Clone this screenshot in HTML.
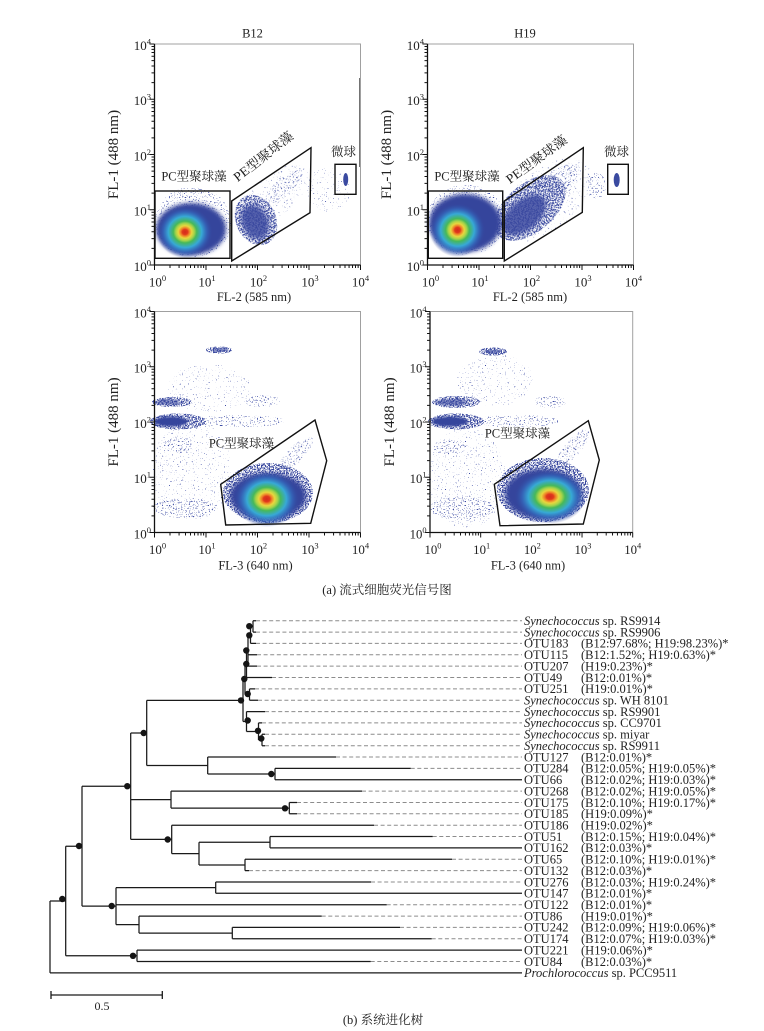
<!DOCTYPE html>
<html><head><meta charset="utf-8">
<style>
html,body{margin:0;padding:0;background:#fff;}
svg{display:block;}
text{font-family:"Liberation Serif","Noto Serif CJK SC",serif;fill:#222;}
</style></head>
<body>
<svg width="764" height="1031" viewBox="0 0 764 1031" xmlns="http://www.w3.org/2000/svg">
<defs>
<filter id="b2" x="-30%" y="-30%" width="160%" height="160%"><feGaussianBlur stdDeviation="2"/></filter>
<filter id="b1" x="-30%" y="-30%" width="160%" height="160%"><feGaussianBlur stdDeviation="1"/></filter>
<filter id="s1" x="-10%" y="-10%" width="120%" height="120%" color-interpolation-filters="sRGB">
<feTurbulence type="fractalNoise" baseFrequency="0.75" numOctaves="1" seed="3"/>
<feColorMatrix type="matrix" values="0 0 0 0 0.23 0 0 0 0 0.29 0 0 0 0 0.64 18 0 0 0 -12.4"/>
<feComposite in2="SourceGraphic" operator="in"/>
</filter>
<filter id="s2" x="-10%" y="-10%" width="120%" height="120%" color-interpolation-filters="sRGB">
<feTurbulence type="fractalNoise" baseFrequency="0.75" numOctaves="1" seed="5"/>
<feColorMatrix type="matrix" values="0 0 0 0 0.23 0 0 0 0 0.29 0 0 0 0 0.64 14 0 0 0 -8.7"/>
<feComposite in2="SourceGraphic" operator="in"/>
</filter>
<filter id="s3" x="-10%" y="-10%" width="120%" height="120%" color-interpolation-filters="sRGB">
<feTurbulence type="fractalNoise" baseFrequency="0.75" numOctaves="1" seed="9"/>
<feColorMatrix type="matrix" values="0 0 0 0 0.22 0 0 0 0 0.28 0 0 0 0 0.62 12 0 0 0 -5.6"/>
<feComposite in2="SourceGraphic" operator="in"/>
</filter>
<radialGradient id="cg">
<stop offset="0" stop-color="#d42a1c"/>
<stop offset="0.1" stop-color="#e03a1c"/>
<stop offset="0.15" stop-color="#ee7a26"/>
<stop offset="0.24" stop-color="#e9d63e"/>
<stop offset="0.33" stop-color="#a6d44a"/>
<stop offset="0.42" stop-color="#46b85a"/>
<stop offset="0.6" stop-color="#37a9d6"/>
<stop offset="0.78" stop-color="#3468bc" stop-opacity="0.8"/>
<stop offset="1" stop-color="#33449c" stop-opacity="0"/>
</radialGradient>
<path id="xt" d="M0,221v5M15.5,221v3M24.57,221v3M31,221v3M36,221v3M40.07,221v3M43.52,221v3M46.5,221v3M49.14,221v3" stroke="#111" stroke-width="1" fill="none"/>
<path id="yt" d="M0,221h-5M0,204.37h-3M0,194.64h-3M0,187.74h-3M0,182.38h-3M0,178h-3M0,174.31h-3M0,171.11h-3M0,168.27h-3" stroke="#111" stroke-width="1" fill="none"/>
<g id="ax">
<path d="M0,0H206V221" stroke="#a0a0a0" fill="none" stroke-width="1"/>
<path d="M0,0V221H206" stroke="#111" fill="none" stroke-width="1.3"/>
<use href="#xt" x="0"/><use href="#xt" x="51.5"/><use href="#xt" x="103"/><use href="#xt" x="154.5"/>
<path d="M206,221v5M0,0h-5" stroke="#111" stroke-width="1"/>
<use href="#yt" y="0"/><use href="#yt" y="-55.25"/><use href="#yt" y="-110.5"/><use href="#yt" y="-165.75"/>
<g font-size="13" text-anchor="end">
<text x="-3.5" y="227">10<tspan font-size="8.5" dy="-5.5">0</tspan></text>
<text x="-3.5" y="171.7">10<tspan font-size="8.5" dy="-5.5">1</tspan></text>
<text x="-3.5" y="116.5">10<tspan font-size="8.5" dy="-5.5">2</tspan></text>
<text x="-3.5" y="61.2">10<tspan font-size="8.5" dy="-5.5">3</tspan></text>
<text x="-3.5" y="6">10<tspan font-size="8.5" dy="-5.5">4</tspan></text>
</g>
<g font-size="13" text-anchor="middle">
<text x="3" y="242.5">10<tspan font-size="8.5" dy="-5.5">0</tspan></text>
<text x="52.5" y="242.5">10<tspan font-size="8.5" dy="-5.5">1</tspan></text>
<text x="104" y="242.5">10<tspan font-size="8.5" dy="-5.5">2</tspan></text>
<text x="155.5" y="242.5">10<tspan font-size="8.5" dy="-5.5">3</tspan></text>
<text x="206" y="242.5">10<tspan font-size="8.5" dy="-5.5">4</tspan></text>
</g>
<text transform="translate(-36.5,110.5) rotate(-90)" text-anchor="middle" font-size="15">FL-1 (488 nm)</text>
</g>
</defs>
<rect width="764" height="1031" fill="#fff"/>

<!-- ===== TL B12 ===== -->
<g fill="#000">
<ellipse cx="193" cy="222" rx="38" ry="35" filter="url(#s2)"/>
<ellipse cx="256" cy="220" rx="20" ry="26" transform="rotate(-25 256 220)" filter="url(#s3)"/>
<ellipse cx="282" cy="188" rx="26" ry="8" transform="rotate(-40 282 188)" filter="url(#s2)"/>
<ellipse cx="275" cy="195" rx="40" ry="20" transform="rotate(-40 275 195)" filter="url(#s1)"/>
<ellipse cx="328" cy="190" rx="22" ry="22" filter="url(#s1)"/>
</g>
<ellipse cx="191" cy="229" rx="35" ry="26" fill="#34449c" filter="url(#b2)"/>
<ellipse cx="185" cy="232" rx="28" ry="26" fill="url(#cg)"/>
<ellipse cx="255" cy="222" rx="13" ry="18" transform="rotate(-25 255 222)" fill="#3a4aa0" opacity="0.85" filter="url(#b2)"/>
<ellipse cx="345.7" cy="179.5" rx="2.5" ry="6.5" fill="#3a4aa0"/>
<line x1="360" y1="78" x2="360" y2="167" stroke="#444" stroke-width="1.5"/>
<use href="#ax" transform="translate(154.5,44)"/>
<text x="254" y="301" text-anchor="middle" font-size="12.5">FL-2 (585 nm)</text>
<text x="252.5" y="37.5" text-anchor="middle" font-size="12.5">B12</text>
<g fill="none" stroke="#111" stroke-width="1.4">
<rect x="155" y="191" width="75" height="67.3"/>
<polygon points="231.7,201 311,147.7 310,212.7 231.7,261"/>
<rect x="335" y="164.3" width="21" height="30"/>
</g>
<text x="194" y="180.5" text-anchor="middle" font-size="12.5">PC型聚球藻</text>
<text x="343.5" y="156" text-anchor="middle" font-size="12.5">微球</text>
<text transform="translate(266,160) rotate(-38)" text-anchor="middle" font-size="13" textLength="72" lengthAdjust="spacingAndGlyphs">PE型聚球藻</text>

<!-- ===== TR H19 ===== -->
<g fill="#000">
<ellipse cx="466" cy="220" rx="39" ry="35" filter="url(#s2)"/>
<ellipse cx="530" cy="208" rx="42" ry="24" transform="rotate(-40 530 208)" filter="url(#s3)"/>
<ellipse cx="555" cy="185" rx="30" ry="12" transform="rotate(-40 555 185)" filter="url(#s2)"/>
<ellipse cx="545" cy="200" rx="55" ry="30" transform="rotate(-40 545 200)" filter="url(#s1)"/>
<ellipse cx="596" cy="186" rx="10" ry="13" filter="url(#s2)"/>
</g>
<ellipse cx="465" cy="223" rx="36" ry="29" fill="#34449c" filter="url(#b2)"/>
<ellipse cx="457.5" cy="230" rx="28" ry="27" fill="url(#cg)"/>
<ellipse cx="524" cy="215" rx="26" ry="15" transform="rotate(-40 524 215)" fill="#3a4aa0" opacity="0.85" filter="url(#b2)"/>
<ellipse cx="616.7" cy="180" rx="3" ry="7" fill="#3a4aa0"/>
<use href="#ax" transform="translate(427.5,44)"/>
<text x="530" y="301" text-anchor="middle" font-size="12.5">FL-2 (585 nm)</text>
<text x="525" y="37.5" text-anchor="middle" font-size="12.5">H19</text>
<g fill="none" stroke="#111" stroke-width="1.4">
<rect x="428.3" y="191" width="74.4" height="67.3"/>
<polygon points="504.3,201 583.3,147.7 582.3,212.3 504.3,261"/>
<rect x="607.7" y="164.3" width="20.6" height="30"/>
</g>
<text x="467" y="180.5" text-anchor="middle" font-size="12.5">PC型聚球藻</text>
<text x="616.5" y="156" text-anchor="middle" font-size="12.5">微球</text>
<text transform="translate(539,163) rotate(-36)" text-anchor="middle" font-size="13" textLength="72" lengthAdjust="spacingAndGlyphs">PE型聚球藻</text>

<!-- ===== BL B12 ===== -->
<g fill="#000">
<ellipse cx="268" cy="493" rx="45" ry="30" filter="url(#s3)"/>
<ellipse cx="295" cy="455" rx="24" ry="8" transform="rotate(-45 295 455)" filter="url(#s2)"/>
<ellipse cx="178" cy="421.5" rx="28" ry="8" filter="url(#s3)"/>
<ellipse cx="172" cy="402" rx="20" ry="5" filter="url(#s3)"/>
<ellipse cx="219" cy="350" rx="13" ry="3.5" filter="url(#s3)"/>
<ellipse cx="240" cy="421" rx="45" ry="6" filter="url(#s2)"/>
<ellipse cx="192" cy="470" rx="40" ry="50" filter="url(#s1)"/>
<ellipse cx="185" cy="508" rx="32" ry="10" filter="url(#s2)"/>
<ellipse cx="178" cy="445" rx="14" ry="8" filter="url(#s2)"/>
<ellipse cx="210" cy="388" rx="42" ry="24" filter="url(#s1)"/>
<ellipse cx="262" cy="401" rx="18" ry="6" filter="url(#s2)"/>
</g>
<ellipse cx="268" cy="496" rx="38" ry="23" fill="#34449c" filter="url(#b2)"/>
<ellipse cx="266.7" cy="499" rx="33" ry="28" fill="url(#cg)"/>
<ellipse cx="171" cy="421.5" rx="17" ry="5" fill="#34449c" filter="url(#b1)"/>
<ellipse cx="168" cy="402" rx="12" ry="3" fill="#3a4aa0" opacity="0.6" filter="url(#b1)"/>
<ellipse cx="220" cy="350" rx="8" ry="2" fill="#3a4aa0" opacity="0.6"/>
<use href="#ax" transform="translate(154.5,311.5)"/>
<text x="255.5" y="569.5" text-anchor="middle" font-size="12.5">FL-3 (640 nm)</text>
<polygon points="220.7,484.3 315,420 326.7,460.7 310.7,523.3 225.7,525" fill="none" stroke="#111" stroke-width="1.4"/>
<text x="241.5" y="447.5" text-anchor="middle" font-size="12.5">PC型聚球藻</text>

<!-- ===== BR H19 ===== -->
<g fill="#000">
<ellipse cx="543" cy="490" rx="46" ry="32" filter="url(#s3)"/>
<ellipse cx="573" cy="448" rx="24" ry="8" transform="rotate(-50 573 448)" filter="url(#s2)"/>
<ellipse cx="456" cy="421.5" rx="28" ry="8" filter="url(#s3)"/>
<ellipse cx="456" cy="402" rx="24" ry="6" filter="url(#s3)"/>
<ellipse cx="493" cy="351.5" rx="14" ry="4" filter="url(#s3)"/>
<ellipse cx="515" cy="421" rx="45" ry="6" filter="url(#s2)"/>
<ellipse cx="550" cy="402" rx="16" ry="6" filter="url(#s2)"/>
<ellipse cx="466" cy="478" rx="40" ry="50" filter="url(#s1)"/>
<ellipse cx="462" cy="508" rx="32" ry="12" filter="url(#s2)"/>
<ellipse cx="450" cy="447" rx="17" ry="7" filter="url(#s2)"/>
<ellipse cx="495" cy="380" rx="38" ry="26" filter="url(#s1)"/>
</g>
<ellipse cx="543" cy="494" rx="38" ry="25" fill="#34449c" filter="url(#b2)"/>
<ellipse cx="550" cy="496.7" rx="36" ry="27" fill="url(#cg)"/>
<ellipse cx="450" cy="421.5" rx="18" ry="5" fill="#34449c" filter="url(#b1)"/>
<ellipse cx="452" cy="402.3" rx="16" ry="3.5" fill="#3a4aa0" opacity="0.65" filter="url(#b1)"/>
<ellipse cx="493" cy="351.7" rx="8" ry="2" fill="#3a4aa0" opacity="0.6"/>
<use href="#ax" transform="translate(430,311.5) scale(0.984,1)"/>
<text x="528" y="569.5" text-anchor="middle" font-size="12.5">FL-3 (640 nm)</text>
<polygon points="494.3,484.3 588.3,420.7 599.3,460 583.3,524 500,525.7" fill="none" stroke="#111" stroke-width="1.4"/>
<text x="517.5" y="437.5" text-anchor="middle" font-size="12.5">PC型聚球藻</text>

<text x="387" y="594" text-anchor="middle" font-size="12.5">(a) 流式细胞荧光信号图</text>

<!-- ===== TREE ===== -->
<path fill="none" stroke="#8c8c8c" stroke-width="1" stroke-dasharray="4 2.6" d="
M256,620.7H522 M256,632.1H522 M256,643.4H522 M257,654.8H522 M257,666.1H522 M272,677.5H522
M255,688.9H522 M258,700.2H522 M265,711.6H522 M262,722.9H522 M265,734.3H522 M265,745.7H522
M336,757H522 M410.7,768.4H522 M362,791.1H522 M297,802.5H522 M297,813.8H522 M374,825.2H522
M432.7,836.5H522 M452,859.3H522 M249,870.6H522 M371,882H522 M386.7,904.7H522 M321.7,916.1H522
M400,927.4H522 M431.7,938.8H522 M370.7,961.5H522"/>
<path fill="none" stroke="#1a1a1a" stroke-width="1.25" d="
M50,901V972.9 M50,901H65.7 M50,972.9H522
M65.7,846.2V955.8 M65.7,846.2H82 M65.7,955.8H137
M137,950.1V961.5 M137,950.1H522 M137,961.5H370.7
M82,786.2V906.1 M82,786.2H130.7 M82,906.1H116
M116,887.65V924.6 M116,887.65H215.7 M116,904.7H386.7 M116,924.6H139
M215.7,882V893.3 M215.7,882H371 M215.7,893.3H522
M139,916.1V933.1 M139,916.1H321.7 M139,933.1H232.3
M232.3,927.4V938.8 M232.3,927.4H400 M232.3,938.8H431.7
M130.7,733V839.4 M130.7,733H146.7 M130.7,799.6H171 M130.7,839.4H171.7
M146.7,700.4V765.5 M146.7,700.4H243 M146.7,765.5H207.7
M207.7,757V774.05 M207.7,757H336 M207.7,774.05H275
M275,768.4V779.7 M275,768.4H410.7 M275,779.7H522
M171,791.1V808.15 M171,791.1H362 M171,808.15H289.3
M289.3,802.5V813.8 M289.3,802.5H297 M289.3,813.8H297
M171.7,825.2V853.6 M171.7,825.2H374 M171.7,853.6H199
M199,842.2V864.95 M199,842.2H270 M199,864.95H245
M270,836.5V847.9 M270,836.5H432.7 M270,847.9H522
M245,859.3V870.6 M245,859.3H452 M245,870.6H249
M243,679.3V721.5 M243,679.3H245 M243,721.5H246.5
M245,664V694.55 M245,664H246.5 M245,694.55H249.5
M246.5,650.5V677.5 M246.5,650.5H248 M246.5,677.5H272
M248,634.9V666.1 M248,634.9H250.5 M248,654.8H257 M248,666.1H257
M250.5,626.4V643.4 M250.5,626.4H253 M250.5,643.4H256
M253,620.7V632.1 M253,620.7H256 M253,632.1H256
M249.5,688.9V700.2 M249.5,688.9H255 M249.5,700.2H258
M246.5,711.6V731.45 M246.5,711.6H265 M246.5,731.45H258.5
M258.5,722.9V740 M258.5,722.9H262 M258.5,740H262
M262,734.3V745.7 M262,734.3H265 M262,745.7H265"/>
<g fill="#151515">
<circle cx="241" cy="700.4" r="3.2"/><circle cx="244.3" cy="679" r="3.2"/><circle cx="246.3" cy="664" r="3.2"/>
<circle cx="246.3" cy="650.5" r="3.2"/><circle cx="249.3" cy="635.3" r="3.2"/><circle cx="249.3" cy="626.2" r="3.2"/>
<circle cx="247.7" cy="694" r="3.2"/><circle cx="247.7" cy="720.5" r="3.2"/><circle cx="258" cy="730.8" r="3.2"/>
<circle cx="261.3" cy="738.5" r="3.2"/><circle cx="143.7" cy="733" r="3.2"/><circle cx="127.3" cy="786.2" r="3.2"/>
<circle cx="79" cy="846" r="3.2"/><circle cx="62.3" cy="899" r="3.2"/><circle cx="133" cy="955.8" r="3.2"/>
<circle cx="111.7" cy="906" r="3.2"/><circle cx="167.7" cy="839.5" r="3.2"/><circle cx="271.3" cy="774" r="3.2"/>
<circle cx="285" cy="808.3" r="3.2"/>
</g>
<g font-size="12.5">
<text x="524" y="625"><tspan font-style="italic">Synechococcus</tspan> sp. RS9914</text>
<text x="524" y="636.4"><tspan font-style="italic">Synechococcus</tspan> sp. RS9906</text>
<text x="524" y="647.7">OTU183</text><text x="581" y="647.7">(B12:97.68%; H19:98.23%)*</text>
<text x="524" y="659.1">OTU115</text><text x="581" y="659.1">(B12:1.52%; H19:0.63%)*</text>
<text x="524" y="670.4">OTU207</text><text x="581" y="670.4">(H19:0.23%)*</text>
<text x="524" y="681.8">OTU49</text><text x="581" y="681.8">(B12:0.01%)*</text>
<text x="524" y="693.2">OTU251</text><text x="581" y="693.2">(H19:0.01%)*</text>
<text x="524" y="704.5"><tspan font-style="italic">Synechococcus</tspan> sp. WH 8101</text>
<text x="524" y="715.9"><tspan font-style="italic">Synechococcus</tspan> sp. RS9901</text>
<text x="524" y="727.2"><tspan font-style="italic">Synechococcus</tspan> sp. CC9701</text>
<text x="524" y="738.6"><tspan font-style="italic">Synechococcus</tspan> sp. miyar</text>
<text x="524" y="750"><tspan font-style="italic">Synechococcus</tspan>  sp. RS9911</text>
<text x="524" y="761.3">OTU127</text><text x="581" y="761.3">(B12:0.01%)*</text>
<text x="524" y="772.7">OTU284</text><text x="581" y="772.7">(B12:0.05%; H19:0.05%)*</text>
<text x="524" y="784">OTU66</text><text x="581" y="784">(B12:0.02%; H19:0.03%)*</text>
<text x="524" y="795.4">OTU268</text><text x="581" y="795.4">(B12:0.02%; H19:0.05%)*</text>
<text x="524" y="806.8">OTU175</text><text x="581" y="806.8">(B12:0.10%; H19:0.17%)*</text>
<text x="524" y="818.1">OTU185</text><text x="581" y="818.1">(H19:0.09%)*</text>
<text x="524" y="829.5">OTU186</text><text x="581" y="829.5">(H19:0.02%)*</text>
<text x="524" y="840.8">OTU51</text><text x="581" y="840.8">(B12:0.15%; H19:0.04%)*</text>
<text x="524" y="852.2">OTU162</text><text x="581" y="852.2">(B12:0.03%)*</text>
<text x="524" y="863.6">OTU65</text><text x="581" y="863.6">(B12:0.10%; H19:0.01%)*</text>
<text x="524" y="874.9">OTU132</text><text x="581" y="874.9">(B12:0.03%)*</text>
<text x="524" y="886.3">OTU276</text><text x="581" y="886.3">(B12:0.03%; H19:0.24%)*</text>
<text x="524" y="897.6">OTU147</text><text x="581" y="897.6">(B12:0.01%)*</text>
<text x="524" y="909">OTU122</text><text x="581" y="909">(B12:0.01%)*</text>
<text x="524" y="920.4">OTU86</text><text x="581" y="920.4">(H19:0.01%)*</text>
<text x="524" y="931.7">OTU242</text><text x="581" y="931.7">(B12:0.09%; H19:0.06%)*</text>
<text x="524" y="943.1">OTU174</text><text x="581" y="943.1">(B12:0.07%; H19:0.03%)*</text>
<text x="524" y="954.4">OTU221</text><text x="581" y="954.4">(H19:0.06%)*</text>
<text x="524" y="965.8">OTU84</text><text x="581" y="965.8">(B12:0.03%)*</text>
<text x="524" y="977.2"><tspan font-style="italic">Prochlorococcus</tspan> sp. PCC9511</text>
</g>
<path d="M51,995H162.3M51,991V999M162.3,991V999" stroke="#1a1a1a" stroke-width="1.3" fill="none"/>
<text x="102" y="1010" text-anchor="middle" font-size="12">0.5</text>
<text x="383" y="1024" text-anchor="middle" font-size="12.5">(b) 系统进化树</text>
</svg>
</body></html>
